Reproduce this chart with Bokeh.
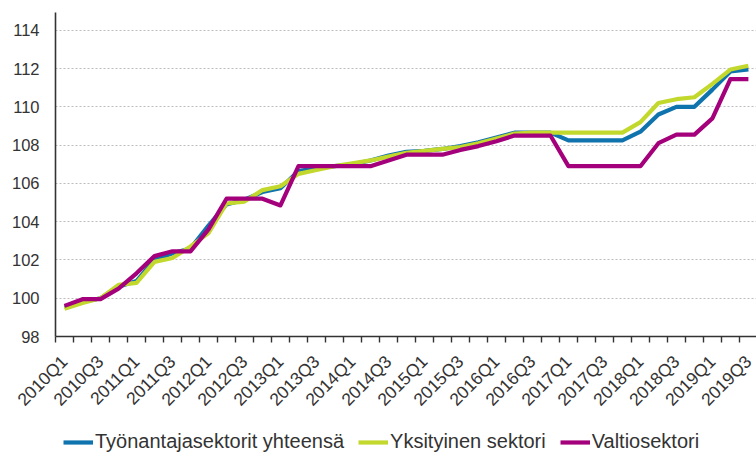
import math
from bokeh.plotting import figure
from bokeh.layouts import column
from bokeh.models import Range1d, FixedTicker, Legend, LegendItem
from bokeh.embed import file_html
from bokeh.resources import INLINE

quarters = ["2010Q1", "2010Q2", "2010Q3", "2010Q4", "2011Q1", "2011Q2", "2011Q3", "2011Q4",
            "2012Q1", "2012Q2", "2012Q3", "2012Q4", "2013Q1", "2013Q2", "2013Q3", "2013Q4",
            "2014Q1", "2014Q2", "2014Q3", "2014Q4", "2015Q1", "2015Q2", "2015Q3", "2015Q4",
            "2016Q1", "2016Q2", "2016Q3", "2016Q4", "2017Q1", "2017Q2", "2017Q3", "2017Q4",
            "2018Q1", "2018Q2", "2018Q3", "2018Q4", "2019Q1", "2019Q2", "2019Q3"]

tyonantaja = [99.5, 99.8, 100.0, 100.6, 100.9, 102.0, 102.35, 102.6, 103.8, 104.9,
              105.15, 105.55, 105.75, 106.65, 106.8, 106.9, 107.0, 107.2, 107.45, 107.65,
              107.7, 107.8, 107.95, 108.15, 108.4, 108.65, 108.65, 108.65, 108.25, 108.25,
              108.25, 108.25, 108.7, 109.6, 110.0, 110.0, 110.9, 111.85, 111.95]

yksityinen = [99.45, 99.75, 100.0, 100.7, 100.8, 101.9, 102.1, 102.7, 103.4, 104.95,
              105.05, 105.65, 105.85, 106.5, 106.7, 106.9, 107.05, 107.2, 107.4, 107.6,
              107.7, 107.8, 107.9, 108.1, 108.35, 108.6, 108.65, 108.65, 108.65, 108.65,
              108.65, 108.65, 109.2, 110.2, 110.4, 110.5, 111.2, 111.95, 112.15]

valtio = [99.6, 99.95, 99.95, 100.5, 101.3, 102.2, 102.45, 102.45, 103.6, 105.2,
          105.2, 105.2, 104.85, 106.9, 106.9, 106.9, 106.9, 106.9, 107.2, 107.5,
          107.5, 107.5, 107.75, 107.95, 108.2, 108.5, 108.5, 108.5, 106.9, 106.9,
          106.9, 106.9, 106.9, 108.1, 108.55, 108.55, 109.4, 111.45, 111.45]

series_names = ["Työnantajasektorit yhteensä", "Yksityinen sektori", "Valtiosektori"]
colors = ["#0f73ad", "#c3d82c", "#a4007c"]
y_ticks = [98, 100, 102, 104, 106, 108, 110, 112, 114]

FONT = "Liberation Sans"
TXT = "#333333"

x = list(range(len(quarters)))
all_series = [tyonantaja, yksityinen, valtio]

p = figure(width=756, height=423, output_backend="svg", toolbar_location=None,
           x_range=Range1d(-0.5, len(quarters) - 0.55), y_range=Range1d(98, 114.93),
           min_border_left=55, min_border_right=0, min_border_top=12, min_border_bottom=87)
p.outline_line_color = None
p.background_fill_color = "white"

for ys, c in zip(all_series, colors):
    p.line(x, ys, line_color=c, line_width=4.2, line_join="round")

# y axis
p.yaxis.ticker = FixedTicker(ticks=y_ticks)
p.yaxis.major_tick_out = 0
p.yaxis.major_tick_in = 0
p.yaxis.minor_tick_out = 0
p.yaxis.minor_tick_in = 0
p.yaxis.axis_line_color = "#333333"
p.yaxis.axis_line_width = 1.6
p.yaxis.major_label_text_font = FONT
p.yaxis.major_label_text_font_size = "16.5px"
p.yaxis.major_label_text_color = TXT
p.yaxis.major_label_standoff = 16

# x axis
label_idx = list(range(0, len(quarters), 2))
p.xaxis.ticker = FixedTicker(ticks=label_idx,
                             minor_ticks=[i - 0.5 for i in range(len(quarters) + 1)])
p.xaxis.major_label_overrides = {i: quarters[i] for i in label_idx}
p.xaxis.major_tick_out = 0
p.xaxis.major_tick_in = 0
p.xaxis.minor_tick_out = 6
p.xaxis.minor_tick_in = 0
p.xaxis.minor_tick_line_color = "#333333"
p.xaxis.minor_tick_line_width = 1.4
p.xaxis.axis_line_color = "#333333"
p.xaxis.axis_line_width = 1.6
p.xaxis.major_label_orientation = math.pi / 4
p.xaxis.major_label_text_font = FONT
p.xaxis.major_label_text_font_size = "17.5px"
p.xaxis.major_label_text_color = TXT
p.xaxis.major_label_standoff = 16

p.xgrid.grid_line_color = None
p.ygrid.ticker = FixedTicker(ticks=y_ticks)
p.ygrid.grid_line_color = "#bdbdbd"
p.ygrid.grid_line_dash = "2 2"
p.ygrid.grid_line_width = 1

# legend strip (series drawn off-range so only the legend shows)
lf = figure(width=756, height=34, output_backend="svg", toolbar_location=None,
            x_range=Range1d(-0.5, len(quarters) - 0.55), y_range=Range1d(0, 1),
            min_border_left=55, min_border_right=0, min_border_top=0, min_border_bottom=0)
lf.axis.visible = False
lf.grid.visible = False
lf.outline_line_color = None
leg_renderers = [lf.line(x, ys, line_color=c, line_width=4.2) for ys, c in zip(all_series, colors)]

legend = Legend(items=[LegendItem(label=n, renderers=[r]) for n, r in zip(series_names, leg_renderers)],
                orientation="horizontal", location=(8, 4))
legend.label_text_font = FONT
legend.label_text_font_size = "20px"
legend.label_text_color = TXT
legend.glyph_width = 30
legend.glyph_height = 20
legend.label_standoff = 2
legend.spacing = 14
legend.padding = 2
legend.margin = 0
legend.border_line_color = None
legend.background_fill_alpha = 0
lf.add_layout(legend, "center")

open("out.html", "w").write(file_html(column(p, lf, spacing=0), INLINE))
